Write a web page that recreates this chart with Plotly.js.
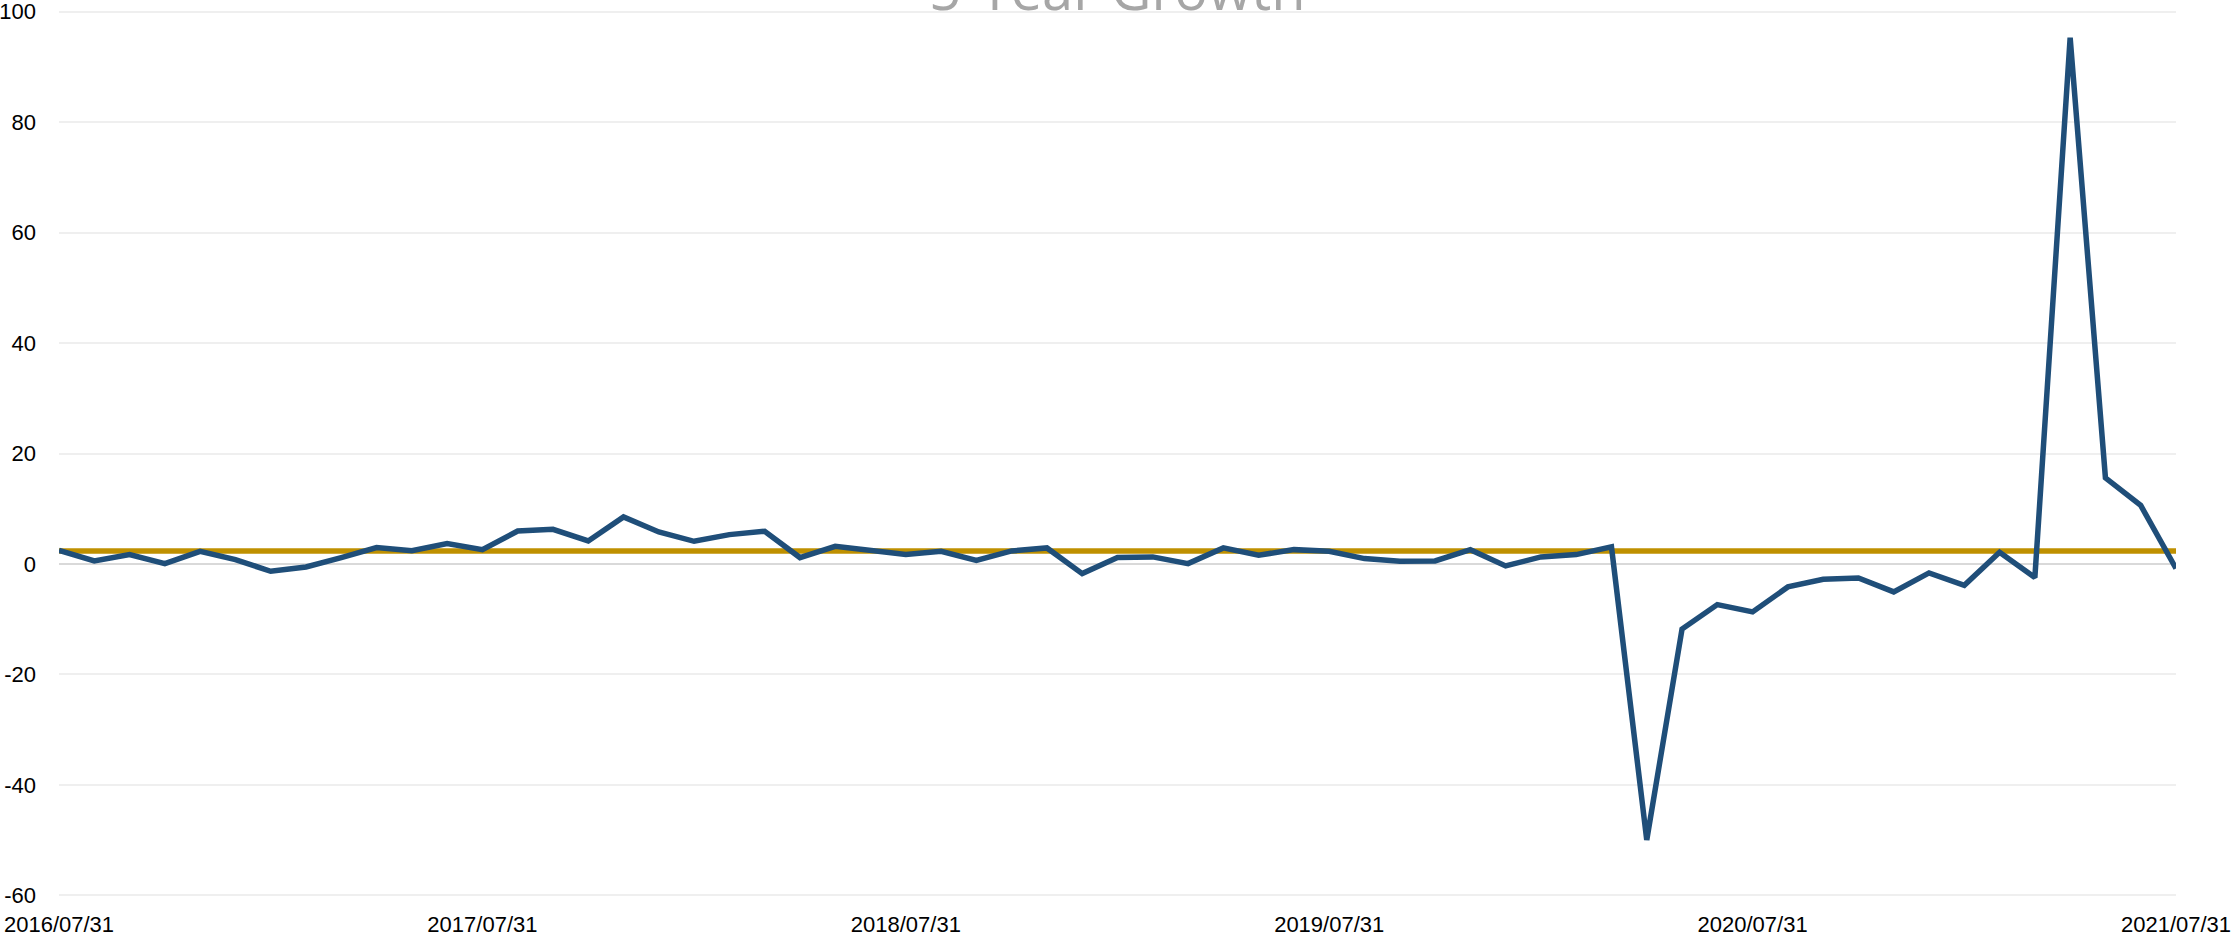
<!DOCTYPE html>
<html>
<head>
<meta charset="utf-8">
<script src="https://cdn.plot.ly/plotly-3.0.1.min.js"></script>
<style>
  html, body { margin: 0; padding: 0; background: #ffffff; }
  #chart { width: 2233px; height: 940px; }
</style>
</head>
<body>
<div id="chart"></div>
<script>
// Month-end dates (categories)
const dates = [
  "2016/07/31","2016/08/31","2016/09/30","2016/10/31","2016/11/30","2016/12/31",
  "2017/01/31","2017/02/28","2017/03/31","2017/04/30","2017/05/31","2017/06/30",
  "2017/07/31","2017/08/31","2017/09/30","2017/10/31","2017/11/30","2017/12/31",
  "2018/01/31","2018/02/28","2018/03/31","2018/04/30","2018/05/31","2018/06/30",
  "2018/07/31","2018/08/31","2018/09/30","2018/10/31","2018/11/30","2018/12/31",
  "2019/01/31","2019/02/28","2019/03/31","2019/04/30","2019/05/31","2019/06/30",
  "2019/07/31","2019/08/31","2019/09/30","2019/10/31","2019/11/30","2019/12/31",
  "2020/01/31","2020/02/29","2020/03/31","2020/04/30","2020/05/31","2020/06/30",
  "2020/07/31","2020/08/31","2020/09/30","2020/10/31","2020/11/30","2020/12/31",
  "2021/01/31","2021/02/28","2021/03/31","2021/04/30","2021/05/31","2021/06/30",
  "2021/07/31"
];

// Growth values
const growth = [
  2.47, 0.54, 1.69, 0.06, 2.29, 0.78,
  -1.33, -0.54, 1.15, 2.96, 2.41, 3.68,
  2.59, 5.97, 6.27, 4.16, 8.51, 5.79,
  4.10, 5.31, 5.91, 1.15, 3.20, 2.44,
  1.69, 2.29, 0.66, 2.35, 2.90, -1.75,
  1.15, 1.27, 0.06, 2.90, 1.57, 2.59,
  2.29, 0.97, 0.48, 0.54, 2.59, -0.36,
  1.27, 1.69, 3.08, -50.0, -11.8, -7.36,
  -8.69, -4.16, -2.78, -2.53, -5.07, -1.63,
  -3.86, 2.10, -2.45, 95.3, 15.6, 10.6,
  -0.83
];

// Reference (average) level
const averageLevel = 2.35;
const averageLine = dates.map(() => averageLevel);

// Tick labels
const xTickLabels = ["2016/07/31","2017/07/31","2018/07/31","2019/07/31","2020/07/31","2021/07/31"];
const yTickValues = [-60, -40, -20, 0, 20, 40, 60, 80, 100];
const yTickLabels = ["-60", "-40", "-20", "0", "20", "40", "60", "80", "100"];

const tickFont = { family: 'Liberation Sans Narrow, Arial Narrow, sans-serif', size: 22, color: '#000000' };

const traces = [
  {
    x: dates, y: averageLine, type: 'scatter', mode: 'lines',
    line: { color: '#bf9000', width: 5.5 },
    hoverinfo: 'skip', showlegend: false
  },
  {
    x: dates, y: growth, type: 'scatter', mode: 'lines',
    line: { color: '#1f4e79', width: 5.5 },
    showlegend: false
  }
];

const layout = {
  width: 2233, height: 940,
  paper_bgcolor: '#ffffff', plot_bgcolor: '#ffffff',
  margin: { l: 59, r: 57, t: 8.7, b: 41.7, pad: 0 },
  title: {
    text: '5-Year Growth',
    font: { family: 'Open Sans, sans-serif', size: 56, color: '#a6a6a6' },
    x: 0.5, xref: 'paper', xanchor: 'center',
    y: 1 - 10 / 940, yref: 'container', yanchor: 'bottom'
  },
  xaxis: {
    type: 'category',
    range: [0, dates.length - 1],
    tickvals: xTickLabels, ticktext: xTickLabels,
    showgrid: false, zeroline: false, showline: false,
    ticks: '', ticklabelstandoff: 11, ticklabeloverflow: 'allow',
    tickfont: tickFont,
    automargin: false, fixedrange: true
  },
  yaxis: {
    range: [-60.5, 100.5],
    tickvals: yTickValues, ticktext: yTickLabels,
    showgrid: true, gridcolor: '#efefef', gridwidth: 2,
    zeroline: true, zerolinecolor: '#d9d9d9', zerolinewidth: 2.5,
    showline: false, ticks: '', ticklabelstandoff: 22, ticklabeloverflow: 'allow',
    tickfont: tickFont,
    automargin: false, fixedrange: true
  },
  showlegend: false
};

Plotly.newPlot('chart', traces, layout, { displayModeBar: false, staticPlot: true });
</script>
</body>
</html>
